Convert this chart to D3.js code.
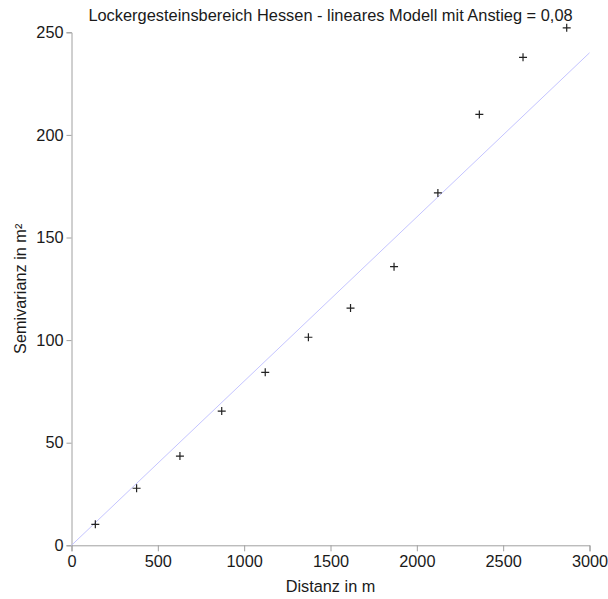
<!DOCTYPE html>
<html>
<head>
<meta charset="utf-8">
<script src="https://cdn.jsdelivr.net/npm/d3@7"></script>
<style>
  body { margin: 0; background: #fff; }
  text { font-family: "Liberation Sans", Arial, sans-serif; }
</style>
</head>
<body>
<div id="chart"></div>
<script>
// Semivariogram data
const distances = [138, 377, 628, 870, 1122, 1372, 1616, 1868, 2122, 2362, 2615, 2868]
const semivariances = [10.2, 27.8, 43.5, 65.4, 84.3, 101.4, 115.6, 135.8, 171.7, 210.0, 237.8, 252.2]
const slope = 0.08
const xTicks = [0, 500, 1000, 1500, 2000, 2500, 3000]
const yTicks = [0, 50, 100, 150, 200, 250]

const W = 608, H = 599
const MARGIN = { LEFT: 71.5, RIGHT: 18.5, TOP: 32.3, BOTTOM: 53.7 }
const WIDTH = W - MARGIN.LEFT - MARGIN.RIGHT
const HEIGHT = H - MARGIN.TOP - MARGIN.BOTTOM

const svg = d3.select("#chart").append("svg")
  .attr("width", W)
  .attr("height", H)

const g = svg.append("g")
  .attr("transform", `translate(${MARGIN.LEFT}, ${MARGIN.TOP})`)

// scales
const x = d3.scaleLinear().domain([0, 3000]).range([0, WIDTH])
const y = d3.scaleLinear().domain([0, 250]).range([HEIGHT, 0])

// axes
const xAxis = g.append("g")
  .attr("transform", `translate(0, ${HEIGHT})`)
  .call(d3.axisBottom(x).tickValues(xTicks).tickFormat(d3.format("d"))
    .tickSizeOuter(0).tickSize(6).tickPadding(4))
const yAxis = g.append("g")
  .call(d3.axisLeft(y).tickValues(yTicks).tickFormat(d3.format("d"))
    .tickSizeOuter(0).tickSize(5).tickPadding(3))

g.selectAll(".domain, .tick line").attr("stroke", "#a0a0a0")
g.selectAll(".tick text")
  .attr("fill", "#1a1a1a")
  .attr("font-size", "16.3px")
  .attr("font-family", "Liberation Sans, Arial, sans-serif")

// model line
g.append("line")
  .attr("x1", x(0)).attr("y1", y(0))
  .attr("x2", x(3000)).attr("y2", y(3000 * slope))
  .attr("stroke", "#c4c4ff")
  .attr("stroke-width", 1)

// plus markers
const pts = distances.map((d, i) => ({ d: d, v: semivariances[i] }))
const size = 4
g.selectAll(".pt")
  .data(pts)
  .enter().append("path")
  .attr("class", "pt")
  .attr("d", p => `M${x(p.d) - size},${y(p.v)}H${x(p.d) + size}M${x(p.d)},${y(p.v) - size}V${y(p.v) + size}`)
  .attr("stroke", "#222")
  .attr("stroke-width", 1.2)
  .attr("fill", "none")

// title and labels
svg.append("text")
  .attr("x", MARGIN.LEFT + WIDTH / 2)
  .attr("y", 21)
  .attr("text-anchor", "middle")
  .attr("font-size", "16.4px")
  .attr("fill", "#1a1a1a")
  .text("Lockergesteinsbereich Hessen - lineares Modell mit Anstieg = 0,08")

svg.append("text")
  .attr("x", MARGIN.LEFT + WIDTH / 2)
  .attr("y", 592)
  .attr("text-anchor", "middle")
  .attr("font-size", "16.3px")
  .attr("fill", "#1a1a1a")
  .text("Distanz in m")

svg.append("text")
  .attr("transform", `translate(26, ${MARGIN.TOP + HEIGHT / 2}) rotate(-90)`)
  .attr("text-anchor", "middle")
  .attr("font-size", "16.3px")
  .attr("fill", "#1a1a1a")
  .text("Semivarianz in m²")
</script>
</body>
</html>
